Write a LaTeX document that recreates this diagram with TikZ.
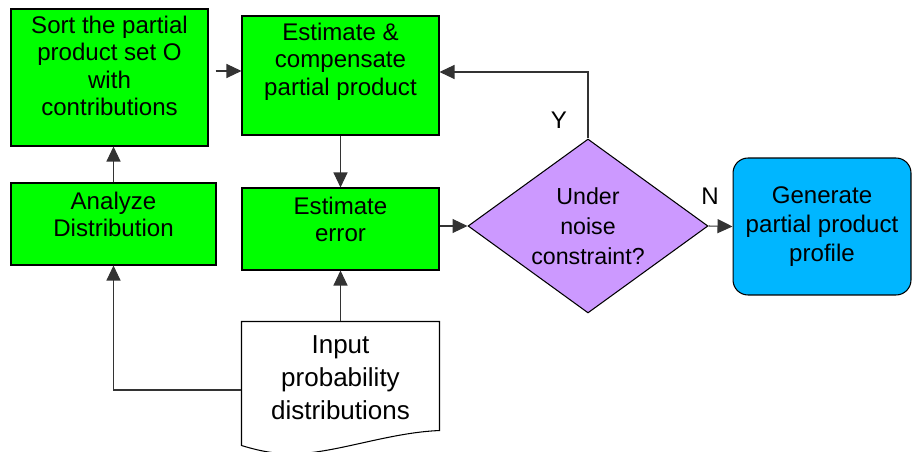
\documentclass[tikz,border=0pt]{standalone}
\usepackage{fontspec}
\setmainfont{Liberation Sans}
\usetikzlibrary{arrows.meta,shapes.geometric}
\definecolor{boxgreen}{RGB}{0,255,0}
\definecolor{decpurple}{RGB}{204,153,255}
\definecolor{outblue}{RGB}{0,182,255}
\newcommand{\flowfont}{\fontsize{13.7pt}{15.6pt}\selectfont}
\tikzset{
	blk/.style={draw=black, line width=0.6pt, inner sep=0pt, font=\flowfont, align=center},
	gbox/.style={blk, fill=boxgreen},
	arr/.style={draw=black!80, line width=0.6pt, -{Triangle[length=0.3cm,width=0.28cm]}},
	every label/.style={align=center, font=\flowfont, inner sep=0pt}
}
\begin{document}
\begin{tikzpicture}[x=0.02cm, y=-0.02cm]
	\useasboundingbox (0,0) rectangle (912,452);

	\node[gbox, minimum width=3.94cm, minimum height=2.74cm,
		label={[yshift=0.23cm]center:{Sort the partial\\product set O\\with\\contributions}}] (sort) at (109.5,77.5) {};
	\node[gbox, minimum width=3.94cm, minimum height=2.38cm,
		label={[yshift=0.28cm]center:{Estimate \&\\compensate\\partial product}}] (comp) at (340.5,75.5) {};
	\node[gbox, minimum width=4.1cm, minimum height=1.64cm,
		label={[yshift=0.19cm]center:{Analyze\\Distribution}}] (dist) at (113.5,224) {};
	\node[gbox, minimum width=3.94cm, minimum height=1.64cm,
		label={[yshift=0.19cm]center:{Estimate\\error}}] (err) at (340.5,229) {};

	\node[blk, draw=none, font=\fontsize{14.8pt}{18.8pt}\selectfont, minimum width=3.94cm, minimum height=2.22cm] (doc) at (340.5,377.5) {Input\\probability\\distributions};
	\draw[line width=0.6pt] (doc.north west) -- (doc.north east) -- ([shift={(0,-3)}]doc.south east)
		.. controls +(-49,2) and +(40,-2) .. ([shift={(-40.5,20)}]doc.south)
		.. controls +(-20,1) and +(23,7) .. ([shift={(0,12)}]doc.south west) -- cycle;

	\node[blk, shape=diamond, fill=decpurple, aspect=1.38, minimum width=4.8cm, minimum height=3.48cm,
		font=\fontsize{13.2pt}{17pt}\selectfont] (chk) at (588,226) {Under\\noise\\constraint?};
	\node[blk, fill=outblue, rounded corners=0.3cm, minimum width=3.56cm, minimum height=2.74cm,
		font=\fontsize{13.7pt}{16.5pt}\selectfont] (gen) at (822,226.5) {Generate\\partial product\\profile};

	\node[font=\flowfont, inner sep=0pt] (ylab) at (559,120) {Y};
	\node[font=\flowfont, inner sep=0pt] (nlab) at (710,196) {N};

	\coordinate (s1) at ([shift={(7,-6.5)}]sort.east);
	\draw[arr] (dist.north) -- (dist.north |- sort.south);
	\draw[arr] (s1) -- (s1 -| comp.west);
	\draw[arr] (comp.south) -- (err.north);
	\draw[arr] (err.east |- chk.west) -- (chk.west);
	\draw[arr] (chk.north) |- ([shift={(0,-3.5)}]comp.east);
	\draw[arr] (chk.east) -- (gen.west);
	\draw[arr] (doc.north) -- (err.south);
	\draw[arr] ([shift={(0,12.5)}]doc.west) -| (dist.south);
\end{tikzpicture}
\end{document}
